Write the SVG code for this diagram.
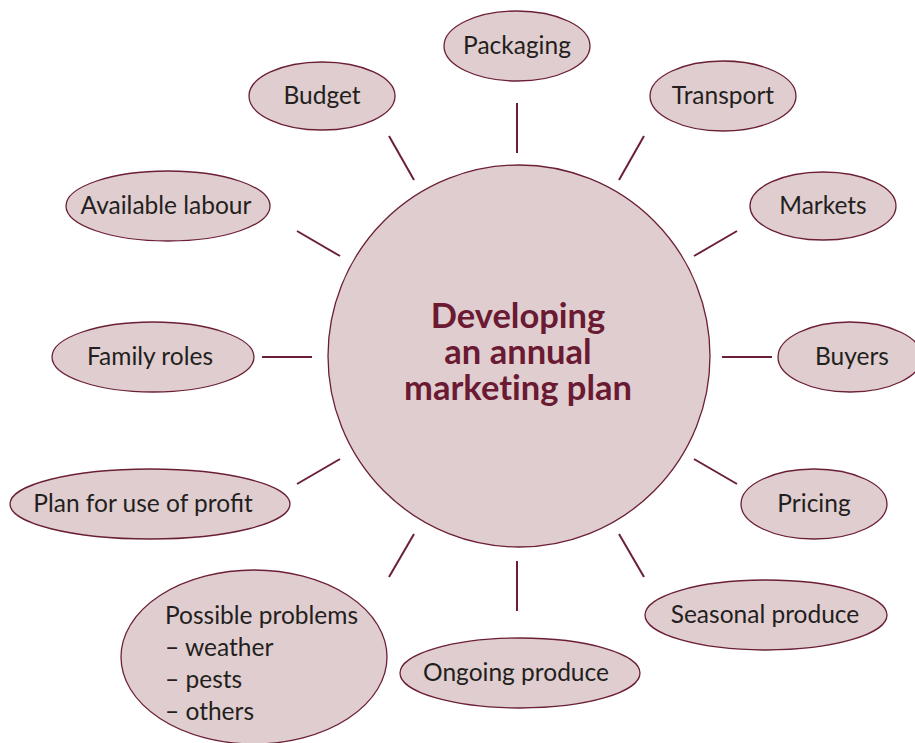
<svg xmlns="http://www.w3.org/2000/svg" width="915" height="743" viewBox="0 0 915 743">
<style>
.n{fill:#e0cdcf;stroke:#6b1f35;stroke-width:1.3}
.t{font-family:"Lato","Open Sans",sans-serif;font-size:24.5px;fill:#231f20;text-anchor:middle}
.tl{font-family:"Lato","Open Sans",sans-serif;font-size:24.5px;fill:#231f20}
.c{font-family:"Lato","Open Sans",sans-serif;font-size:34.5px;font-weight:bold;fill:#6a1a32;text-anchor:middle;font-variant-ligatures:none}
.e line{stroke:#6b1f35;stroke-width:2}
</style>
<rect width="915" height="743" fill="#ffffff"/>
<g id="connectors" class="e">
<line x1="517" y1="103" x2="517" y2="153"/>
<line x1="389" y1="136" x2="414" y2="180"/>
<line x1="644" y1="136" x2="619" y2="180"/>
<line x1="297" y1="231" x2="340" y2="256"/>
<line x1="737" y1="231" x2="694" y2="256"/>
<line x1="262" y1="357" x2="312" y2="357"/>
<line x1="722" y1="357" x2="772" y2="357"/>
<line x1="297" y1="484" x2="340" y2="459"/>
<line x1="737" y1="484" x2="694" y2="459"/>
<line x1="389" y1="577" x2="414" y2="534"/>
<line x1="644" y1="577" x2="619" y2="534"/>
<line x1="517" y1="561" x2="517" y2="611"/>
</g>
<g id="center"><circle class="n" cx="519" cy="356" r="191"/>
<text class="c" x="518" y="328">Developing</text>
<text class="c" x="518" y="364">an annual</text>
<text class="c" x="518" y="400">marketing plan</text></g>
<g id="packaging"><ellipse class="n" cx="517" cy="46" rx="73" ry="35"/><text class="t" x="517" y="54">Packaging</text></g>
<g id="budget"><ellipse class="n" cx="322" cy="96" rx="73" ry="34"/><text class="t" x="322" y="104">Budget</text></g>
<g id="transport"><ellipse class="n" cx="723" cy="96" rx="73" ry="35"/><text class="t" x="723" y="104">Transport</text></g>
<g id="labour"><ellipse class="n" cx="168" cy="206" rx="102" ry="35"/><text class="t" x="166" y="214">Available labour</text></g>
<g id="markets"><ellipse class="n" cx="823" cy="206" rx="73" ry="34"/><text class="t" x="823" y="214">Markets</text></g>
<g id="family"><ellipse class="n" cx="153" cy="357" rx="101" ry="35"/><text class="t" x="150" y="365">Family roles</text></g>
<g id="buyers"><ellipse class="n" cx="850" cy="357" rx="72" ry="35"/><text class="t" x="852" y="365">Buyers</text></g>
<g id="profit"><ellipse class="n" cx="150" cy="504" rx="140" ry="35"/><text class="t" x="143" y="512">Plan for use of profit</text></g>
<g id="pricing"><ellipse class="n" cx="814" cy="504" rx="73" ry="35"/><text class="t" x="814" y="512">Pricing</text></g>
<g id="problems"><ellipse class="n" cx="254" cy="657" rx="133" ry="87"/>
<text class="tl" x="165" y="624">Possible problems</text>
<text class="tl" x="165" y="656">– weather</text>
<text class="tl" x="165" y="688">– pests</text>
<text class="tl" x="165" y="720">– others</text></g>
<g id="seasonal"><ellipse class="n" cx="766" cy="615" rx="121" ry="35"/><text class="t" x="765" y="623">Seasonal produce</text></g>
<g id="ongoing"><ellipse class="n" cx="520" cy="673" rx="120" ry="35"/><text class="t" x="516" y="681">Ongoing produce</text></g>
</svg>
